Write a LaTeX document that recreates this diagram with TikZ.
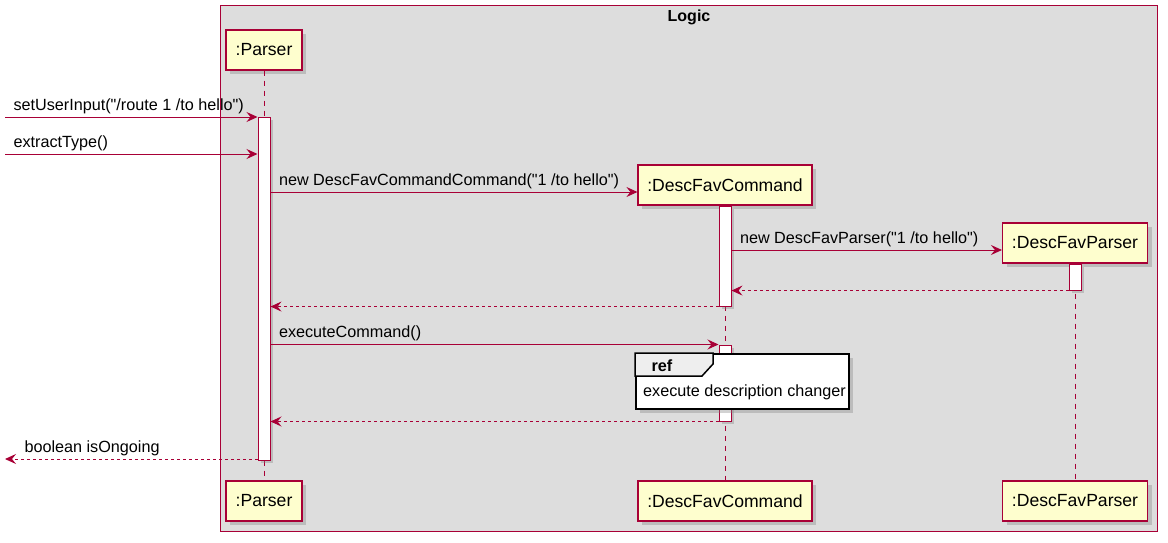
\documentclass[tikz,border=0pt]{standalone}
\usepackage{fontspec}
\setmainfont{Liberation Sans}[Ligatures=TeXOff]
\usetikzlibrary{arrows.meta, positioning, shadows, calc}
\definecolor{umlred}{HTML}{A80036}
\definecolor{umlfill}{HTML}{FEFECE}
\definecolor{umlgrey}{HTML}{DDDDDD}
\definecolor{refgrey}{HTML}{EEEEEE}

\begin{document}
\begin{tikzpicture}[x=1pt, y=-1pt,
  part/.style={draw=umlred, fill=umlfill, line width=1.1pt, minimum height=40pt,
    font=\fontsize{17.6}{19}\selectfont,
    drop shadow={shadow xshift=4pt, shadow yshift=-4pt, opacity=0.35}},
  act/.style={draw=umlred, fill=white, line width=1pt, minimum width=12pt, inner sep=0pt,
    drop shadow={shadow xshift=3pt, shadow yshift=-3pt, opacity=0.35}},
  life/.style={draw=umlred, line width=1pt, dash pattern=on 5pt off 5pt},
  msg/.style={draw=umlred, line width=1pt, -{Stealth[length=11pt, width=10pt, inset=4pt]}},
  ret/.style={msg, dash pattern=on 3pt off 3pt},
  lbl/.style={font=\fontsize{16.2}{18}\selectfont, inner xsep=8pt, inner ysep=3pt, text=black}]
\useasboundingbox (0,0) rectangle (1168,543);

% Logic frame
\node[draw=umlred, fill=umlgrey, line width=1pt, anchor=north west,
  minimum width=937pt, minimum height=526pt] (logic) at (220,5) {};
\node[font=\bfseries\fontsize{16}{18}\selectfont, below=1pt of logic.north] (logictitle) {Logic};

% Participants
\node[part, minimum width=76pt] (ptop) at (264,50) {:Parser};
\node[part, minimum width=174pt] (ctop) at (725,185) {:DescFavCommand};
\node[part, minimum width=145pt] (dtop) at (1075,243) {:DescFavParser};
\node[part, minimum width=76pt] (pbot) at (264,501) {:Parser};
\node[part, minimum width=174pt] (cbot) at (725,501) {:DescFavCommand};
\node[part, minimum width=145pt] (dbot) at (1075,501) {:DescFavParser};

% Lifelines
\draw[life] (ptop) -- (pbot);
\draw[life] (ctop) -- (cbot);
\draw[life] (dtop) -- (dbot);

% Activations
\node[act, minimum height=343pt] (pact) at (264,288.5) {};
\node[act, minimum height=100pt, below=0pt of ctop] (cact) {};
\node[act, minimum height=26pt, below=0pt of dtop] (dact) {};
\node[act, minimum height=76pt] (cact2) at (725,383) {};

% Messages
\coordinate (in1) at (5,117);
\coordinate (in2) at (5,154);
\coordinate (out1) at (5,459);
\coordinate (m3) at (0,192);
\coordinate (m4) at (0,250);

\draw[msg] (in1) -- (pact.west |- in1)
  node[lbl, pos=0, above right] {setUserInput("/route 1 /to hello")};
\draw[msg] (in2) -- (pact.west |- in2)
  node[lbl, pos=0, above right] {extractType()};
\draw[msg] (pact.east |- m3) -- (ctop.west |- m3)
  node[lbl, pos=0, above right] {new DescFavCommandCommand("1 /to hello")};
\draw[msg] (cact.east |- m4) -- (dtop.west |- m4)
  node[lbl, pos=0, above right] {new DescFavParser("1 /to hello")};
\draw[ret] (dact.south west) -- (cact.east |- dact.south);
\draw[ret] (cact.south west) -- (pact.east |- cact.south);
\draw[msg] (pact.east |- cact2.north) -- (cact2.north west)
  node[lbl, pos=0, above right] {executeCommand()};
\draw[ret] (cact2.south west) -- (pact.east |- cact2.south);
\draw[ret] (pact.west |- out1) -- (out1)
  node[lbl, pos=1, above right, xshift=11pt] {boolean isOngoing};

% Ref frame
\node[draw=black, fill=white, line width=1.5pt, anchor=north west,
  minimum width=213pt, minimum height=55pt,
  drop shadow={shadow xshift=4pt, shadow yshift=-4pt, opacity=0.35}] (ref) at (635,353) {};
\draw[fill=refgrey, line width=1.5pt] (ref.north west) -- ++(78,0) -- ++(0,11) -- ++(-11,12)
  -- ($(ref.north west)+(0,23)$) -- cycle;
\node[font=\bfseries\fontsize{16.2}{18}\selectfont, anchor=west] (reflbl)
  at ($(ref.north west)+(13,13)$) {ref};
\node[font=\fontsize{16.2}{18}\selectfont, anchor=west, inner xsep=0pt] (reftxt)
  at ($(ref.north west)+(8,39)$) {execute description changer};
\end{tikzpicture}
\end{document}
